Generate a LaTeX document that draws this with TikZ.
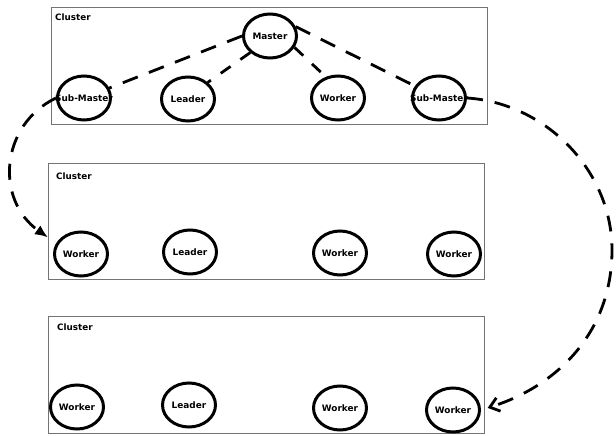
\documentclass[tikz,border=0pt]{standalone}
\usepackage{fontspec}
\setmainfont{DejaVu Sans}
\usetikzlibrary{shapes.geometric,arrows.meta,backgrounds}
\newcommand\zb[1]{\makebox[0pt]{#1}}
\begin{document}
\begin{tikzpicture}[x=1pt,y=-1pt,
  ell/.style={ellipse,draw=black,line width=3pt,fill=white,minimum width=53pt,minimum height=44pt,inner sep=0pt,font=\fontsize{8.9}{10}\selectfont\bfseries},
  clusterbox/.style={draw=black!55,line width=0.8pt,anchor=north west,minimum width=436pt,inner sep=0pt},
  clab/.style={anchor=west,inner sep=0pt,font=\fontsize{8.8}{10}\selectfont\bfseries},
  dline/.style={line width=2.8pt,dash pattern=on 16pt off 12pt},
  sline/.style={line width=2.8pt,dash pattern=on 12pt off 12pt}]
\useasboundingbox (0,0) rectangle (616,436);

% cluster 1
\node[ell] (master) at (270,36) {\zb{Master}};
\node[ell] (sm1) at (84,98) {\zb{Sub-Master}};
\node[ell] (l1) at (188,99) {\zb{Leader}};
\node[ell] (w1) at (338,98) {\zb{Worker}};
\node[ell] (sm2) at (439,98) {\zb{Sub-Master}};
% cluster 2
\node[ell] (w21) at (81,254) {\zb{Worker}};
\node[ell] (l2) at (190,252) {\zb{Leader}};
\node[ell] (w22) at (340,253) {\zb{Worker}};
\node[ell] (w23) at (454,254) {\zb{Worker}};
% cluster 3
\node[ell] (w31) at (77,407) {\zb{Worker}};
\node[ell] (l3) at (189,405) {\zb{Leader}};
\node[ell] (w32) at (340,408) {\zb{Worker}};
\node[ell] (w33) at (453,410) {\zb{Worker}};

\node[clab] (c1) at (55,17) {Cluster};
\node[clab] (c2) at (56,176) {Cluster};
\node[clab] (c3) at (57,327) {Cluster};

\begin{scope}[on background layer]
  \node[clusterbox,minimum height=117pt] (b1) at (51,7) {};
  \node[clusterbox,minimum height=116pt] (b2) at (48,163) {};
  \node[clusterbox,minimum height=117pt] (b3) at (48,316) {};

  \draw[dline] (master.west) -- (sm1.center);
  \draw[dline,-{Latex[length=13pt,width=11pt]}] (sm1.west) .. controls (0,125) and (-5,200) .. (b2.west |- w21.north west);
  \draw[dline] (master.20) -- (sm2.center);
  \draw[dline,-{Straight Barb[length=9pt,width=14pt]},shorten >=7pt] (sm2.east) .. controls (545,103) and (612,170) .. (612,250) .. controls (612,330) and (560,385) .. (w33.east);
  \draw[sline] (master.south west) -- (l1.north east);
  \draw[sline] (master.-25) -- (w1.120);
\end{scope}
\end{tikzpicture}
\end{document}
